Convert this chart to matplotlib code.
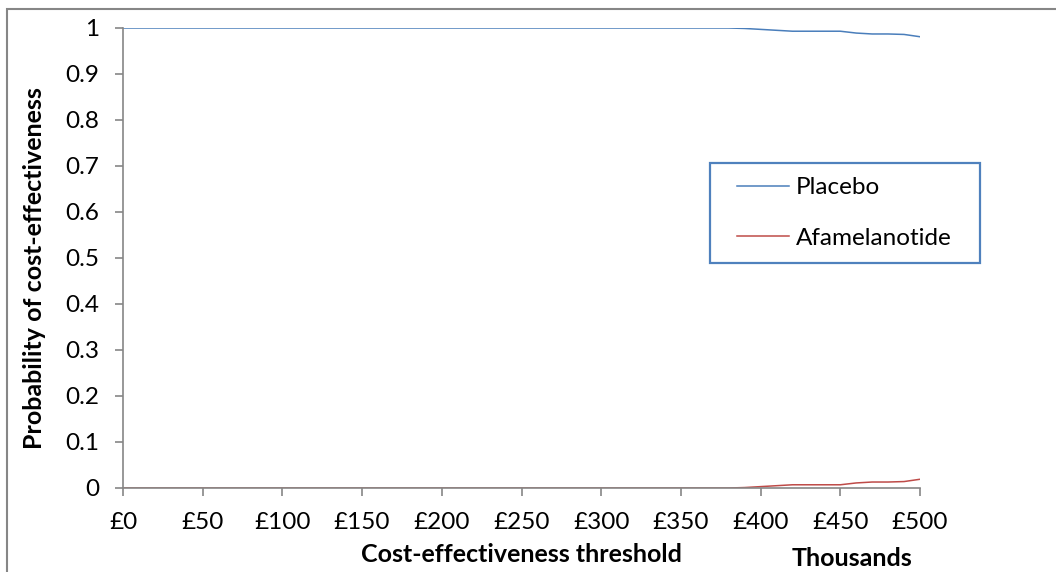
import matplotlib
matplotlib.use("Agg")
import matplotlib.pyplot as plt
from matplotlib.patches import Rectangle

plt.rcParams["font.family"] = ["Lato", "DejaVu Sans"]
plt.rcParams["font.size"] = 17.5

# cost-effectiveness threshold (thousands of £)
thresholds = list(range(0, 510, 10))
placebo = [1.0] * 39 + [0.999, 0.997, 0.995, 0.993, 0.993, 0.993, 0.993,
                        0.989, 0.987, 0.987, 0.986, 0.981]
afamelanotide = [0.0] * 39 + [0.001, 0.003, 0.005, 0.007, 0.007, 0.007, 0.007,
                              0.011, 0.013, 0.013, 0.014, 0.019]

xticks = [0, 50, 100, 150, 200, 250, 300, 350, 400, 450, 500]
xtick_labels = ["£%d" % v for v in xticks]
yticks = [0, 0.1, 0.2, 0.3, 0.4, 0.5, 0.6, 0.7, 0.8, 0.9, 1]
ytick_labels = ["0", "0.1", "0.2", "0.3", "0.4", "0.5", "0.6", "0.7", "0.8", "0.9", "1"]

axis_grey = "#868686"
W, H = 1056, 572

fig = plt.figure(figsize=(10.56, 5.72), dpi=100)
ax = fig.add_axes([123 / W, 1 - 488 / H, (920 - 123) / W, (488 - 28) / H])

ax.plot(thresholds, placebo, color="#4A7EBB", lw=1.1, label="Placebo")
ax.plot(thresholds, afamelanotide, color="#BE4B48", lw=1.1, label="Afamelanotide")

ax.set_xlim(0, 500)
ax.set_ylim(0, 1)
ax.set_xticks(xticks)
ax.set_xticklabels(xtick_labels)
ax.set_yticks(yticks)
ax.set_yticklabels(ytick_labels)

for loc in ["top", "right"]:
    ax.spines[loc].set_visible(False)
for loc in ["left", "bottom"]:
    ax.spines[loc].set_color(axis_grey)
    ax.spines[loc].set_linewidth(1.2)
ax.tick_params(direction="out", length=6, width=1.2, color=axis_grey,
               labelsize=17.5)
ax.tick_params(axis="y", pad=11)
ax.tick_params(axis="x", pad=11)

ax.set_xlabel("Cost-effectiveness threshold", fontweight="bold", fontsize=18)
ax.xaxis.set_label_coords(0.5, -(555 - 488) / 460)
ax.set_ylabel("Probability of cost-effectiveness", fontweight="bold", fontsize=18)
ax.yaxis.set_label_coords(-(123 - 35) / 797, (488 - 268) / 460)
for lbl in (ax.xaxis.label, ax.yaxis.label):
    lbl.set_va("center")
fig.text(852 / W, 1 - 559 / H, "Thousands", fontweight="bold",
         fontsize=18, ha="center", va="center")

leg = ax.legend(loc="center left", bbox_to_anchor=(737 / W, 1 - 213 / H),
                bbox_transform=fig.transFigure, frameon=False,
                handlelength=2.15, handletextpad=0.28, labelspacing=1.22,
                borderpad=0, borderaxespad=0, fontsize=17.5)

# legend box as drawn in the original
fig.patches.append(Rectangle((710 / W, 1 - 263 / H), 270 / W, 100 / H,
                             transform=fig.transFigure, fill=False,
                             edgecolor="#4F81BD", lw=1.6))

# outer chart border (top and left visible, cut at right/bottom)
fig.patches.append(Rectangle((7 / W, -0.1), 1.2, 1 - 9 / H + 0.1,
                             transform=fig.transFigure, fill=False,
                             edgecolor=axis_grey, lw=1.5))

fig.savefig("out.png", dpi=100)
